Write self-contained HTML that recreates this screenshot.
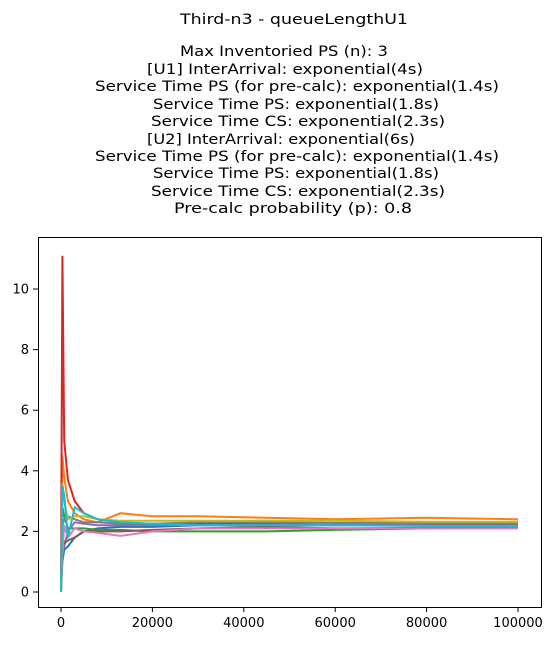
<!DOCTYPE html>
<html><head><meta charset="utf-8"><style>
body{margin:0;background:#fff;width:547px;height:642px;overflow:hidden}
text{font-family:"DejaVu Sans","Liberation Sans",sans-serif;fill:#000}
</style></head><body>
<svg id="chart" width="547" height="642" xmlns="http://www.w3.org/2000/svg">
<g font-size="14.5" text-anchor="middle" lengthAdjust="spacingAndGlyphs">
<text x="294" y="24" textLength="228" lengthAdjust="spacingAndGlyphs">Third-n3 - queueLengthU1</text>
<text x="284" y="56" textLength="208" lengthAdjust="spacingAndGlyphs">Max Inventoried PS (n): 3</text>
<text x="285" y="74" textLength="276" lengthAdjust="spacingAndGlyphs">[U1] InterArrival: exponential(4s)</text>
<text x="297" y="91" textLength="404" lengthAdjust="spacingAndGlyphs">Service Time PS (for pre-calc): exponential(1.4s)</text>
<text x="296" y="109" textLength="286" lengthAdjust="spacingAndGlyphs">Service Time PS: exponential(1.8s)</text>
<text x="298" y="126" textLength="294" lengthAdjust="spacingAndGlyphs">Service Time CS: exponential(2.3s)</text>
<text x="281" y="144" textLength="268" lengthAdjust="spacingAndGlyphs">[U2] InterArrival: exponential(6s)</text>
<text x="297" y="161" textLength="404" lengthAdjust="spacingAndGlyphs">Service Time PS (for pre-calc): exponential(1.4s)</text>
<text x="296" y="178" textLength="286" lengthAdjust="spacingAndGlyphs">Service Time PS: exponential(1.8s)</text>
<text x="298" y="196" textLength="294" lengthAdjust="spacingAndGlyphs">Service Time CS: exponential(2.3s)</text>
<text x="293" y="213" textLength="238" lengthAdjust="spacingAndGlyphs">Pre-calc probability (p): 0.8</text>
</g>
<g id="series"></g>
<g id="axes"></g>
<rect x="38.5" y="237.5" width="503" height="370" fill="none" stroke="#000" stroke-width="1"/>
</svg>
<script>
const xValues = [0, 300, 700, 1500, 3000, 5000, 8000, 13000, 20000, 30000, 45000, 60000, 80000, 100000];
const seriesBlue   = [0,1.0,1.4,1.5,1.8,2.0,2.1,2.15,2.15,2.2,2.2,2.2,2.2,2.2];
const seriesOrange = [0,4.5,3.8,3.0,2.6,2.4,2.3,2.6,2.5,2.5,2.45,2.4,2.45,2.4];
const seriesGreen  = [0,2.8,2.5,2.1,2.1,2.1,2.05,2.05,2.0,2.0,2.0,2.05,2.1,2.12];
const seriesRed    = [0,11.1,5.0,3.7,3.0,2.6,2.4,2.3,2.25,2.25,2.25,2.2,2.25,2.2];
const seriesPurple = [0,1.6,1.5,2.0,2.3,2.25,2.2,2.2,2.2,2.2,2.22,2.22,2.25,2.25];
const seriesBrown  = [0,1.8,1.6,1.7,1.8,2.0,2.0,2.0,2.05,2.1,2.15,2.1,2.12,2.12];
const seriesPink   = [0,1.2,2.2,1.8,2.1,2.0,1.95,1.85,2.0,2.1,2.1,2.1,2.1,2.1];
const seriesGray   = [0,2.2,2.4,2.5,2.4,2.3,2.3,2.25,2.25,2.3,2.3,2.28,2.27,2.27];
const seriesOlive  = [0,3.6,3.0,2.4,2.5,2.5,2.4,2.35,2.35,2.35,2.35,2.35,2.32,2.32];
const seriesCyan   = [0,3.5,3.2,1.8,2.8,2.6,2.4,2.3,2.25,2.2,2.2,2.2,2.18,2.18];
const xTicks = [0, 20000, 40000, 60000, 80000, 100000];
const yTicks = [0, 2, 4, 6, 8, 10];

const NS = "http://www.w3.org/2000/svg";
const xScale = v => 61 + v / 100000 * 457;
const yScale = v => 592 - v * 30.3;
const series = [
  [seriesBlue,"#1f77b4","series-blue"],[seriesOrange,"#ff7f0e","series-orange"],
  [seriesGreen,"#2ca02c","series-green"],[seriesRed,"#d62728","series-red"],
  [seriesPurple,"#9467bd","series-purple"],[seriesBrown,"#8c564b","series-brown"],
  [seriesPink,"#e377c2","series-pink"],[seriesGray,"#7f7f7f","series-gray"],
  [seriesOlive,"#bcbd22","series-olive"],[seriesCyan,"#17becf","series-cyan"]];
const sg = document.getElementById("series");
series.forEach(([vals,color,name]) => {
  const p = document.createElementNS(NS,"polyline");
  
  
  p.setAttribute("points", vals.map((v,i)=>xScale(xValues[i]).toFixed(1)+","+yScale(v).toFixed(1)).join(" "));
  p.setAttribute("fill","none"); p.setAttribute("stroke",color); p.setAttribute("stroke-width","2");
  sg.appendChild(p);
});
const ag = document.getElementById("axes");
xTicks.forEach(t => {
  const x = xScale(t);
  const l = document.createElementNS(NS,"line");
  
  
  l.setAttribute("x1",x);l.setAttribute("x2",x);l.setAttribute("y1",607);l.setAttribute("y2",612);l.setAttribute("stroke","#000");
  ag.appendChild(l);
  const tx = document.createElementNS(NS,"text");
  
  
  tx.setAttribute("x",x);tx.setAttribute("y",627);tx.setAttribute("text-anchor","middle");tx.setAttribute("font-size","13");
  tx.textContent = t; ag.appendChild(tx);
});
yTicks.forEach(t => {
  const y = yScale(t);
  const l = document.createElementNS(NS,"line");
  
  
  l.setAttribute("x1",33);l.setAttribute("x2",38);l.setAttribute("y1",y);l.setAttribute("y2",y);l.setAttribute("stroke","#000");
  ag.appendChild(l);
  const tx = document.createElementNS(NS,"text");
  
  
  tx.setAttribute("x",29);tx.setAttribute("y",y+4.5);tx.setAttribute("text-anchor","end");tx.setAttribute("font-size","13");
  tx.textContent = t; ag.appendChild(tx);
});
</script>
</body></html>
